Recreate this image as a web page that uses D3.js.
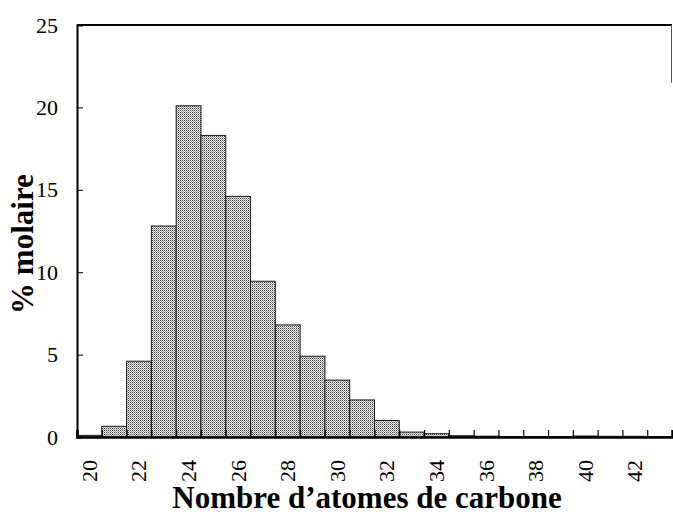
<!DOCTYPE html>
<html>
<head>
<meta charset="utf-8">
<script src="https://cdn.jsdelivr.net/npm/d3@7/dist/d3.min.js"></script>
<style>
  html, body { margin: 0; padding: 0; background: #fff; }
  svg { display: block; }
  svg text { font-family: "Liberation Serif", "Times New Roman", serif !important; fill: #000; }
</style>
</head>
<body>
<svg id="chart" width="673" height="518"></svg>
<script>
// ---- data ----
const carbons = [20,21,22,23,24,25,26,27,28,29,30,31,32,33,34,35,36,37,38,39,40,41,42,43];
const molarPct = [0.1,0.65,4.6,12.8,20.1,18.3,14.6,9.45,6.8,4.9,3.45,2.25,1.0,0.3,0.2,0.08,0.05,0.03,0.03,0.03,0.06,0.04,0.04,0.03];
const xTickLabels = [20,22,24,26,28,30,32,34,36,38,40,42];
const yTickValues = [0,5,10,15,20,25];
const xTitle = "Nombre d\u2019atomes de carbone";
const yTitle = "% molaire";

// ---- layout ----
const W = 673, H = 518;
const margin = { left: 77, top: 25, right: 1, bottom: 81 };
const svg = d3.select("#chart");

const x = d3.scaleLinear().domain([19.5, 43.5]).range([margin.left, W - margin.right]);
const y = d3.scaleLinear().domain([0, 25]).range([H - margin.bottom, margin.top]);

// stipple pattern
const defs = svg.append("defs");
const pat = defs.append("pattern").attr("id", "stip")
  .attr("patternUnits", "userSpaceOnUse").attr("width", 2).attr("height", 2);
pat.append("rect").attr("width", 2).attr("height", 2).attr("fill", "#f2f2f2");
pat.append("rect").attr("x", 0).attr("y", 0).attr("width", 1).attr("height", 1).attr("fill", "#3a3a3a");
pat.append("rect").attr("x", 1).attr("y", 1).attr("width", 1).attr("height", 1).attr("fill", "#a0a0a0");

// bars
const data = carbons.map((c, i) => ({ c, v: molarPct[i] }));
svg.append("g").selectAll("rect").data(data).join("rect")
  .attr("x", d => x(d.c - 0.5))
  .attr("y", d => y(d.v))
  .attr("width", d => x(d.c + 0.5) - x(d.c - 0.5))
  .attr("height", d => y(0) - y(d.v))
  .attr("fill", "url(#stip)")
  .attr("stroke", "#1a1a1a")
  .attr("stroke-width", 1);

// frame: top, left, short right
const x0 = x.range()[0], x1 = x.range()[1];
const yTop = y(25), yBot = y(0);
svg.append("line").attr("x1", x0).attr("x2", x1).attr("y1", yTop).attr("y2", yTop)
  .attr("stroke", "#000").attr("stroke-width", 2);
svg.append("line").attr("x1", x1 - 0.5).attr("x2", x1 - 0.5).attr("y1", yTop).attr("y2", y(21.5))
  .attr("stroke", "#555").attr("stroke-width", 1);

// y axis
const yAxis = d3.axisLeft(y).tickValues(yTickValues).tickSize(-6).tickPadding(19)
  .tickFormat(d3.format("d"));
const gy = svg.append("g").attr("transform", `translate(${x0},0)`).call(yAxis);
gy.attr("font-family", null).attr("font-size", null);
gy.select(".domain").attr("stroke", "#000").attr("stroke-width", 2);
gy.selectAll(".tick line").attr("stroke", "#000").attr("stroke-width", 1)
  .filter(d => d === 0 || d === 25).remove();
gy.selectAll(".tick text").attr("font-size", 22).attr("fill", "#000");

// x axis (ticks at bin boundaries, pointing inward)
const bounds = d3.range(20.5, 43.5, 1);
const xAxis = d3.axisBottom(x).tickValues(bounds).tickSize(-7).tickFormat("");
const gx = svg.append("g").attr("transform", `translate(0,${yBot})`).call(xAxis);
gx.select(".domain").attr("stroke", "#000").attr("stroke-width", 2.5);
gx.selectAll(".tick line").attr("stroke", "#000").attr("stroke-width", 1.2);

// x tick labels rotated
svg.append("g").selectAll("text").data(xTickLabels).join("text")
  .attr("transform", d => `translate(${x(d)},460) rotate(-90)`)
  .attr("text-anchor", "end")
  .attr("dominant-baseline", "central")
  .attr("font-size", 22)
  .text(d => d);

// titles
svg.append("text")
  .attr("x", 367).attr("y", 508)
  .attr("text-anchor", "middle")
  .attr("font-size", 31).attr("font-weight", "bold")
  .text(xTitle);

svg.append("text")
  .attr("transform", `translate(33,244) rotate(-90)`)
  .attr("text-anchor", "middle")
  .attr("font-size", 31).attr("font-weight", "bold")
  .text(yTitle);
</script>
</body>
</html>
